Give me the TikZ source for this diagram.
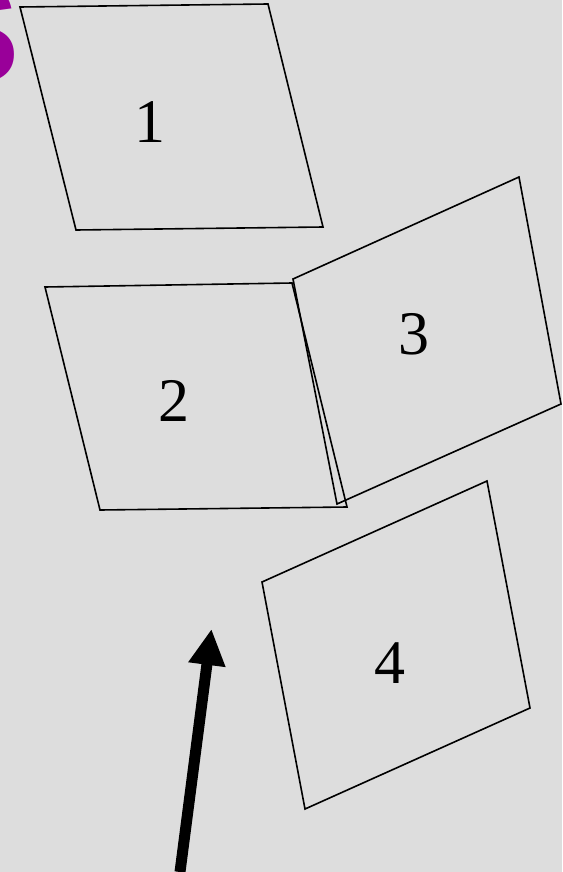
\documentclass[tikz,border=0pt]{standalone}
\usepackage{fontspec}
\setmainfont{Liberation Serif}
\newfontfamily\titlefont{Liberation Sans}
\usetikzlibrary{arrows.meta}
\definecolor{bgG}{RGB}{221,221,221}
\definecolor{ttlP}{RGB}{153,0,153}

\begin{document}
\begin{tikzpicture}[x=1pt,y=-1pt,>={Triangle[length=36pt,width=35pt]}]
\tikzset{card/.style={draw=black,line width=1.6pt,line join=miter},
  cardnum/.style={font=\fontsize{62}{62}\selectfont,inner sep=0pt}}
\useasboundingbox (0,0) rectangle (562,872);
\fill[bgG] (0,0) rectangle (562,872);
\begin{scope}
\clip (0,0) rectangle (562,872);
\node[ttlP,font=\titlefont\bfseries\fontsize{140}{140}\selectfont,anchor=base east,inner sep=0pt] (ttl) at (20,83) {S};
\end{scope}
\draw[card] (20,7)--(268,4)--(323,227)--(76,230)--cycle;      % 1
\draw[card] (45,287)--(292,283)--(347,507)--(100,510)--cycle;  % 2
\draw[card] (293,279)--(519,177)--(561,404)--(337,504)--cycle; % 3
\draw[card] (262,582)--(487,481)--(530,708)--(305,809)--cycle; % 4
\node[cardnum] (n1) at (150,122) {1};
\node[cardnum] (n2) at (174,401) {2};
\node[cardnum] (n3) at (414,334) {3};
\node[cardnum] (n4) at (390,663) {4};
\coordinate (tail) at (180,872);
\coordinate (tip) at (211.5,629);
\draw[->,line width=11pt] (tail)--(tip);
\end{tikzpicture}
\end{document}
